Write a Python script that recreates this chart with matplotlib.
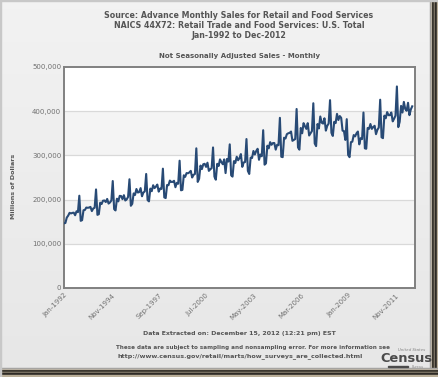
import matplotlib
matplotlib.use("Agg")
import matplotlib.pyplot as plt
import numpy as np
from matplotlib.patches import Rectangle
from matplotlib.ticker import FuncFormatter

# ---- data (millions of dollars, not seasonally adjusted) ----
s1992 = [146400, 147100, 159300, 163700, 170100, 168700, 169900, 170400, 164600, 173700, 171500, 208800]
s1993 = [152000, 153500, 176000, 176500, 182000, 181500, 182000, 183500, 174000, 180000, 181500, 223000]
s1994 = [165500, 167000, 193000, 190000, 197500, 198000, 194500, 201500, 191000, 193500, 198000, 242000]
s1995 = [178500, 175500, 202000, 196000, 208500, 208000, 201000, 210000, 198000, 200500, 206000, 246000]
s1996 = [186000, 190500, 214000, 210500, 224000, 216000, 217000, 226000, 207500, 216000, 218500, 258000]
s1997 = [199000, 196000, 225000, 219000, 232500, 226000, 229500, 234000, 218000, 225000, 224000, 270000]
s1998 = [205000, 203500, 233000, 232500, 243000, 240000, 240000, 242500, 228000, 238000, 236000, 288000]
s1999 = [221000, 222000, 255000, 251500, 260000, 259500, 261500, 265000, 250000, 256000, 258000, 316000]
s2000 = [240000, 247000, 277000, 269000, 280000, 281000, 274000, 283500, 265000, 268500, 271000, 318000]
s2001 = [252000, 245000, 281000, 276000, 291000, 285000, 280000, 291000, 260000, 292000, 286000, 325000]
s2002 = [255000, 252000, 287000, 283000, 297000, 289000, 294000, 303000, 274000, 284000, 285000, 337000]
s2003 = [265000, 258000, 295000, 294000, 310000, 302000, 310000, 315000, 290000, 302000, 298000, 357000]
s2004 = [279000, 282000, 322000, 316000, 330000, 324000, 328000, 328000, 313000, 324000, 323000, 385000]
s2005 = [297000, 296000, 340000, 338000, 348000, 350000, 351000, 354000, 333000, 335000, 337000, 405000]
s2006 = [318000, 313000, 362000, 350000, 373000, 366000, 360000, 373000, 345000, 350000, 355000, 418000]
s2007 = [327000, 321000, 371000, 361000, 388000, 374000, 372000, 384000, 356000, 367000, 372000, 425000]
s2008 = [351000, 344000, 376000, 373000, 394000, 380000, 389000, 385000, 356000, 355000, 335000, 382000]
s2009 = [301000, 296000, 330000, 331000, 346000, 343000, 350000, 354000, 325000, 339000, 337000, 397000]
s2010 = [316000, 315000, 362000, 360000, 371000, 360000, 364000, 367000, 348000, 358000, 363000, 426000]
s2011 = [341000, 339000, 390000, 384000, 398000, 391000, 391000, 397000, 377000, 383000, 390000, 456000]
s2012 = [364000, 376000, 412000, 397000, 421000, 405000, 401000, 419000, 391000, 404000, 411000]

yearly = [s1992, s1993, s1994, s1995, s1996, s1997, s1998, s1999, s2000, s2001,
          s2002, s2003, s2004, s2005, s2006, s2007, s2008, s2009, s2010, s2011, s2012]
sales = [v for yr in yearly for v in yr]
month_idx = np.arange(len(sales))

tick_labels = ["Jan-1992", "Nov-1994", "Sep-1997", "Jul-2000", "May-2003", "Mar-2006", "Jan-2009", "Nov-2011"]
tick_pos = [0, 34, 68, 102, 136, 170, 204, 238]
y_ticks = [0, 100000, 200000, 300000, 400000, 500000]

W, H = 439, 377
fig = plt.figure(figsize=(W / 100, H / 100), dpi=100)

# background gradient
bg = fig.add_axes([0, 0, 1, 1], zorder=-10)
grad = np.linspace(0.95, 0.905, 256).reshape(-1, 1)
bg.imshow(np.dstack([grad, grad, grad]), aspect="auto", extent=[0, 1, 0, 1], origin="upper")
bg.set_xlim(0, 1); bg.set_ylim(0, 1)
bg.axis("off")

def fx(px):
    return px / W

def fy(py):
    return 1 - py / H

# frame / shadow
for (x0, col) in [(430, "#9a9a9a"), (431, "#d8cfc0"), (432, "#3b372f"), (434, "#8a8070"), (435, "#2d2a25"), (437, "#b9ae98")]:
    fig.patches.append(Rectangle((fx(x0), 0), fx(2), 1, transform=fig.transFigure, color=col, zorder=-5))
for (y0, col) in [(368, "#9a9a9a"), (369, "#d8cfc0"), (370, "#3b372f"), (372, "#8a8070"), (373, "#2d2a25"), (375, "#b9ae98")]:
    fig.patches.append(Rectangle((0, fy(y0 + 2)), 1, 2 / H, transform=fig.transFigure, color=col, zorder=-5))
fig.patches.append(Rectangle((0, 0), fx(1.5), 1, transform=fig.transFigure, color="#c8c8c8", zorder=-5))
fig.patches.append(Rectangle((0, fy(1.2)), 1, 1.2 / H, transform=fig.transFigure, color="#c8c8c8", zorder=-5))

# main axes
left, right, top, bottom = 64, 415, 67, 288
ax = fig.add_axes([fx(left), fy(bottom), (right - left) / W, (bottom - top) / H])
ax.set_facecolor("white")
for i, (lo, hi) in enumerate(zip(y_ticks[:-1], y_ticks[1:])):
    ax.axhspan(lo, hi, color="white" if i % 2 == 0 else "#f4f4f4", zorder=0, lw=0)
for yv in y_ticks[1:-1]:
    ax.axhline(yv, color="#d9d9d9", lw=0.9, zorder=1)

ax.plot(month_idx, sales, color="#284a75", lw=1.5, zorder=3, solid_joinstyle="round")

ax.set_xlim(0, 252)
ax.set_ylim(0, 500000)
ax.set_yticks(y_ticks)
ax.yaxis.set_major_formatter(FuncFormatter(lambda v, p: f"{int(v):,}"))
ax.set_xticks(tick_pos)
ax.set_xticklabels(tick_labels, rotation=45, ha="right", va="top", rotation_mode="anchor")
ax.tick_params(axis="both", length=0, labelsize=5, labelcolor="#707070", pad=2)
ax.tick_params(axis="x", pad=3)
for sp in ax.spines.values():
    sp.set_color("#808080")
    sp.set_linewidth(1.4)

tc = "#555555"
fig.text(fx(239), fy(16), "Source: Advance Monthly Sales for Retail and Food Services",
         ha="center", va="center", fontsize=5.65, fontweight="bold", color=tc)
fig.text(fx(239), fy(26), "NAICS 44X72: Retail Trade and Food Services: U.S. Total",
         ha="center", va="center", fontsize=5.65, fontweight="bold", color=tc)
fig.text(fx(239), fy(36), "Jan-1992 to Dec-2012",
         ha="center", va="center", fontsize=5.65, fontweight="bold", color=tc)
fig.text(fx(240), fy(56), "Not Seasonally Adjusted Sales - Monthly",
         ha="center", va="center", fontsize=5.0, fontweight="bold", color=tc)
fig.text(fx(14), fy(186), "Millions of Dollars", rotation=90,
         ha="center", va="center", fontsize=4.6, fontweight="bold", color=tc)
fig.text(fx(239), fy(333), "Data Extracted on: December 15, 2012 (12:21 pm) EST",
         ha="center", va="center", fontsize=4.5, fontweight="bold", color=tc)
fig.text(fx(253), fy(348), "These data are subject to sampling and nonsampling error. For more information see",
         ha="center", va="center", fontsize=4.1, fontweight="bold", color=tc)
fig.text(fx(240), fy(356), "http://www.census.gov/retail/marts/how_surveys_are_collected.html",
         ha="center", va="center", fontsize=4.6, fontweight="bold", color=tc)

# Census logo
fig.text(fx(406), fy(359), "Census", ha="center", va="center", fontsize=9.4, fontweight="bold",
         color="#4a4a4a", family="Liberation Sans Narrow")
fig.text(fx(412), fy(350), "United States", ha="center", va="center", fontsize=2.9,
         color="#808080", style="italic")
fig.text(fx(418), fy(367), "Bureau", ha="center", va="center", fontsize=2.4, color="#909090")
fig.patches.append(Rectangle((fx(388), fy(367.3)), fx(20), 1.3 / H, transform=fig.transFigure,
                             color="#4a4a4a", zorder=5))

fig.savefig("out.png", dpi=100)
